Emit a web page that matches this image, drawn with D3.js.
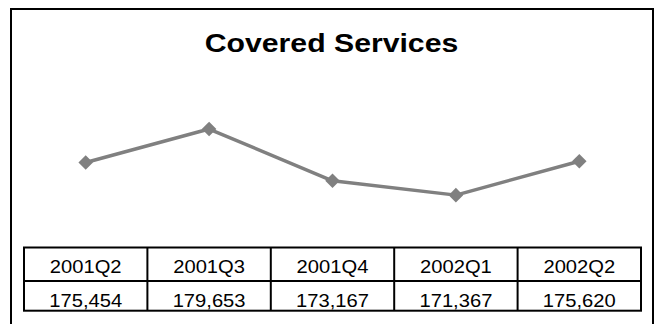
<!DOCTYPE html>
<html>
<head>
<meta charset="utf-8">
<script src="https://cdn.jsdelivr.net/npm/d3@7/dist/d3.min.js"></script>
<style>
  html, body { margin: 0; padding: 0; background: #fff; }
  svg { display: block; }
  text { font-family: "Liberation Sans", Arial, sans-serif; fill: #000; }
</style>
</head>
<body>
<svg id="chart" width="655" height="324"></svg>
<script>
// Quarterly covered services
const chartTitle = "Covered Services";
const quarters = ["2001Q2", "2001Q3", "2001Q4", "2002Q1", "2002Q2"];
const services = [175454, 179653, 173167, 171367, 175620];

const W = 655, H = 324;
const svg = d3.select("#chart");
const fmt = d3.format(",");
const stretch = 1.14; // wide glyph rendering

// Outer frame
svg.append("rect")
  .attr("x", 11).attr("y", 9)
  .attr("width", 642).attr("height", H + 20)
  .attr("fill", "none").attr("stroke", "#000").attr("stroke-width", 2);

// Title
svg.append("text")
  .attr("transform", `translate(331.5,51.5) scale(${stretch},1)`)
  .attr("text-anchor", "middle")
  .style("font-size", "26.5px")
  .style("font-weight", "bold")
  .text(chartTitle);

// Scales: one band per quarter, shared by the line and the data table
const tableLeft = 24, tableRight = 641;
const x = d3.scaleBand().domain(quarters).range([tableLeft, tableRight]).padding(0);
const y = d3.scaleLinear().domain([168000, 182000]).range([222, 110.3]);
const cx = q => x(q) + x.bandwidth() / 2;

const pts = quarters.map((q, i) => ({ q, v: services[i] }));

// Series line
svg.append("path")
  .datum(pts)
  .attr("fill", "none")
  .attr("stroke", "#808080")
  .attr("stroke-width", 3.5)
  .attr("stroke-linejoin", "round")
  .attr("d", d3.line().x(d => cx(d.q)).y(d => y(d.v)));

// Diamond markers
svg.selectAll("path.marker")
  .data(pts)
  .join("path")
  .attr("class", "marker")
  .attr("transform", d => `translate(${cx(d.q)},${y(d.v)})`)
  .attr("d", d3.symbol().type(d3.symbolDiamond2).size(135))
  .attr("fill", "#808080");

// Data table
const tTop = 247.5, tMid = 281, tBot = 310.7;
const table = svg.append("g")
  .attr("fill", "none").attr("stroke", "#000").attr("stroke-width", 2);
table.append("rect")
  .attr("x", tableLeft).attr("y", tTop)
  .attr("width", tableRight - tableLeft).attr("height", tBot - tTop);
table.append("line")
  .attr("x1", tableLeft).attr("x2", tableRight)
  .attr("y1", tMid).attr("y2", tMid);
table.selectAll("line.div")
  .data(quarters.slice(1))
  .join("line")
  .attr("class", "div")
  .attr("x1", d => x(d)).attr("x2", d => x(d))
  .attr("y1", tTop).attr("y2", tBot);

svg.selectAll("text.cat")
  .data(quarters)
  .join("text")
  .attr("class", "cat")
  .attr("transform", d => `translate(${cx(d)},272.7) scale(${stretch},1)`)
  .attr("text-anchor", "middle")
  .style("font-size", "17.7px")
  .text(d => d);

svg.selectAll("text.val")
  .data(pts)
  .join("text")
  .attr("class", "val")
  .attr("transform", d => `translate(${cx(d.q)},307.3) scale(${stretch},1)`)
  .attr("text-anchor", "middle")
  .style("font-size", "17.7px")
  .text(d => fmt(d.v));
</script>
</body>
</html>
